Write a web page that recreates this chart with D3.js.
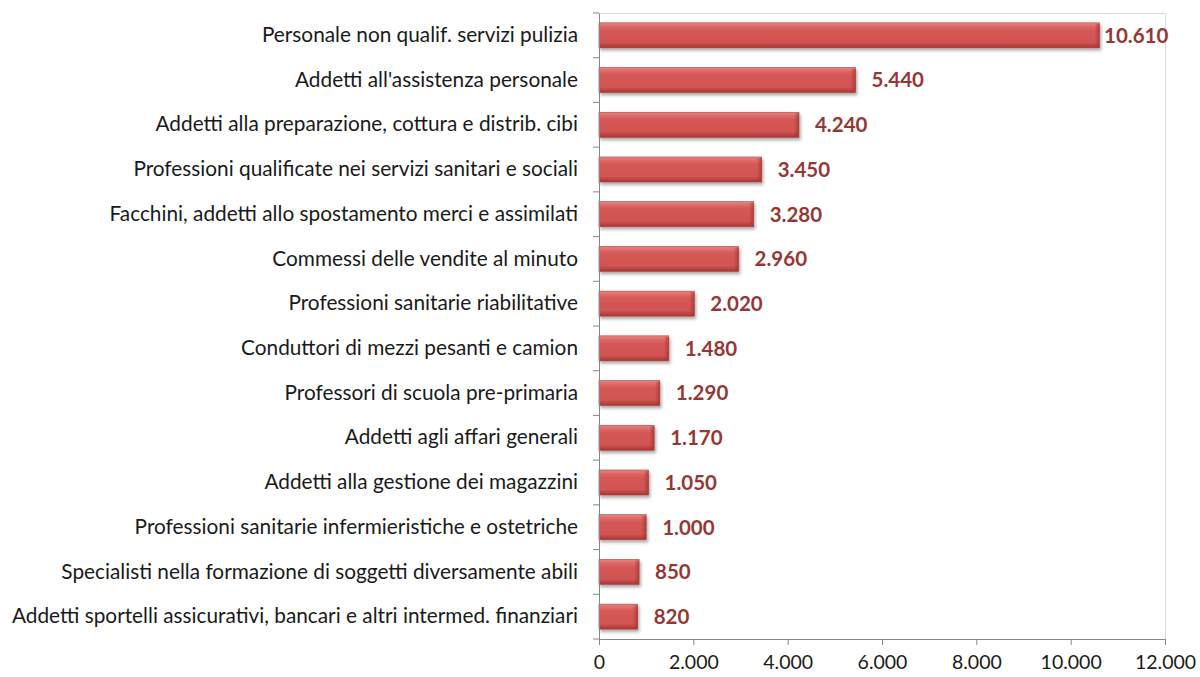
<!DOCTYPE html>
<html>
<head>
<meta charset="utf-8">
<script src="https://cdn.jsdelivr.net/npm/d3@7"></script>
<style>
  body { margin: 0; background: #fff; }
  svg { display: block; }
</style>
</head>
<body>
<div id="wrapper"></div>
<script>
// categories top to bottom, as in the picture
const categories = [
  "Personale non qualif. servizi pulizia",
  "Addetti all'assistenza personale",
  "Addetti alla preparazione, cottura e distrib. cibi",
  "Professioni qualificate nei servizi sanitari e sociali",
  "Facchini, addetti allo spostamento merci e assimilati",
  "Commessi delle vendite al minuto",
  "Professioni sanitarie riabilitative",
  "Conduttori di mezzi pesanti e camion",
  "Professori di scuola pre-primaria",
  "Addetti agli affari generali",
  "Addetti alla gestione dei magazzini ",
  "Professioni sanitarie infermieristiche e ostetriche",
  "Specialisti nella formazione di soggetti diversamente abili",
  "Addetti sportelli assicurativi, bancari e altri intermed. finanziari"
]
const values = [10610, 5440, 4240, 3450, 3280, 2960, 2020, 1480, 1290, 1170, 1050, 1000, 850, 820]
const xTicks = [0, 2000, 4000, 6000, 8000, 10000, 12000]

const fmt = d => d3.format(",")(d).replace(/,/g, ".")
const fontFamily = "Lato, 'Open Sans', sans-serif"

let dimensions = {
  width: 1200,
  height: 677,
  margin: { top: 13, right: 35, bottom: 38, left: 599 },
}
dimensions.boundedWidth = dimensions.width - dimensions.margin.left - dimensions.margin.right
dimensions.boundedHeight = dimensions.height - dimensions.margin.top - dimensions.margin.bottom

const svg = d3.select("#wrapper")
  .append("svg")
    .attr("width", dimensions.width)
    .attr("height", dimensions.height)

// bevel look: vertical gradient + drop shadow
const defs = svg.append("defs")
const grad = defs.append("linearGradient")
    .attr("id", "barGrad")
    .attr("x1", 0).attr("y1", 0).attr("x2", 0).attr("y2", 1)
grad.append("stop").attr("offset", "0%").attr("stop-color", "#e58582")
grad.append("stop").attr("offset", "18%").attr("stop-color", "#dc6462")
grad.append("stop").attr("offset", "30%").attr("stop-color", "#d55856")
grad.append("stop").attr("offset", "78%").attr("stop-color", "#d15452")
grad.append("stop").attr("offset", "90%").attr("stop-color", "#b94442")
grad.append("stop").attr("offset", "100%").attr("stop-color", "#a33634")

// darker right end
const endGrad = defs.append("linearGradient")
    .attr("id", "endGrad")
    .attr("x1", 0).attr("y1", 0).attr("x2", 1).attr("y2", 0)
endGrad.append("stop").attr("offset", "0%").attr("stop-color", "#a33634").attr("stop-opacity", 0)
endGrad.append("stop").attr("offset", "100%").attr("stop-color", "#a33634").attr("stop-opacity", 0.75)

const shadow = defs.append("filter")
    .attr("id", "shadow")
    .attr("x", "-5%").attr("y", "-30%").attr("width", "115%").attr("height", "170%")
shadow.append("feDropShadow")
    .attr("dx", 1.5).attr("dy", 2.5).attr("stdDeviation", 1.8)
    .attr("flood-color", "#000").attr("flood-opacity", 0.33)

const bounds = svg.append("g")
  .attr("transform", `translate(${dimensions.margin.left},${dimensions.margin.top})`)

const xScale = d3.scaleLinear()
  .domain([0, 12000])
  .range([0, dimensions.boundedWidth])

const yScale = d3.scaleBand()
  .domain(categories)
  .range([0, dimensions.boundedHeight])
  .paddingInner(0.44)
  .paddingOuter(0.22)

// plot frame (top and right)
bounds.append("path")
  .attr("d", `M0,0.5H${dimensions.boundedWidth + 0.5}V${dimensions.boundedHeight}`)
  .attr("fill", "none")
  .attr("stroke", "#d9d9d9")
  .attr("stroke-width", 1)

// bars
const barGroups = bounds.selectAll(".bar")
  .data(values)
  .join("g")
    .attr("class", "bar")
    .attr("transform", (d, i) => `translate(0,${yScale(categories[i])})`)

const bh = yScale.bandwidth()

barGroups.append("rect")
  .attr("x", 0)
  .attr("y", 0)
  .attr("width", d => xScale(d))
  .attr("height", bh)
  .attr("fill", "url(#barGrad)")
  .attr("stroke", "#b0403e")
  .attr("stroke-width", 0.6)
  .attr("filter", "url(#shadow)")

barGroups.append("rect")
  .attr("x", d => xScale(d) - 5)
  .attr("y", 1)
  .attr("width", 5)
  .attr("height", bh - 2)
  .attr("fill", "url(#endGrad)")

// value labels (kept inside the plot frame like the original)
barGroups.append("text")
  .attr("x", d => Math.min(xScale(d) + 16, dimensions.boundedWidth - 61))
  .attr("y", bh / 2)
  .attr("dy", "0.36em")
  .attr("fill", "#953735")
  .style("font-family", fontFamily)
  .style("font-weight", "bold")
  .style("font-size", "20.5px")
  .text(d => fmt(d))

// y axis
const yAxisGenerator = d3.axisLeft(yScale)
  .tickSize(0)
  .tickPadding(21)
const yAxis = bounds.append("g").call(yAxisGenerator)
yAxis.select(".domain").attr("stroke", "#868686")
yAxis.selectAll("text")
  .attr("fill", "#1a1a1a")
  .style("font-family", fontFamily)
  .style("font-size", "20.8px")

// ticks between categories
const step = yScale.step()
const edges = d3.range(categories.length + 1).map(i => yScale(categories[0]) - step * yScale.paddingInner() / 2 + i * step)
yAxis.selectAll(".edge")
  .data(edges)
  .join("line")
    .attr("class", "edge")
    .attr("x1", -6).attr("x2", 0)
    .attr("y1", d => d).attr("y2", d => d)
    .attr("stroke", "#868686")

// x axis
const xAxisGenerator = d3.axisBottom(xScale)
  .tickValues(xTicks)
  .tickSize(6)
  .tickSizeOuter(0)
  .tickPadding(10)
  .tickFormat(fmt)
const xAxis = bounds.append("g")
  .attr("transform", `translate(0,${dimensions.boundedHeight})`)
  .call(xAxisGenerator)
xAxis.select(".domain").attr("stroke", "#868686")
xAxis.selectAll(".tick line").attr("stroke", "#868686")
xAxis.selectAll("text")
  .attr("fill", "#1a1a1a")
  .style("font-family", fontFamily)
  .style("font-size", "19.5px")
</script>
</body>
</html>
